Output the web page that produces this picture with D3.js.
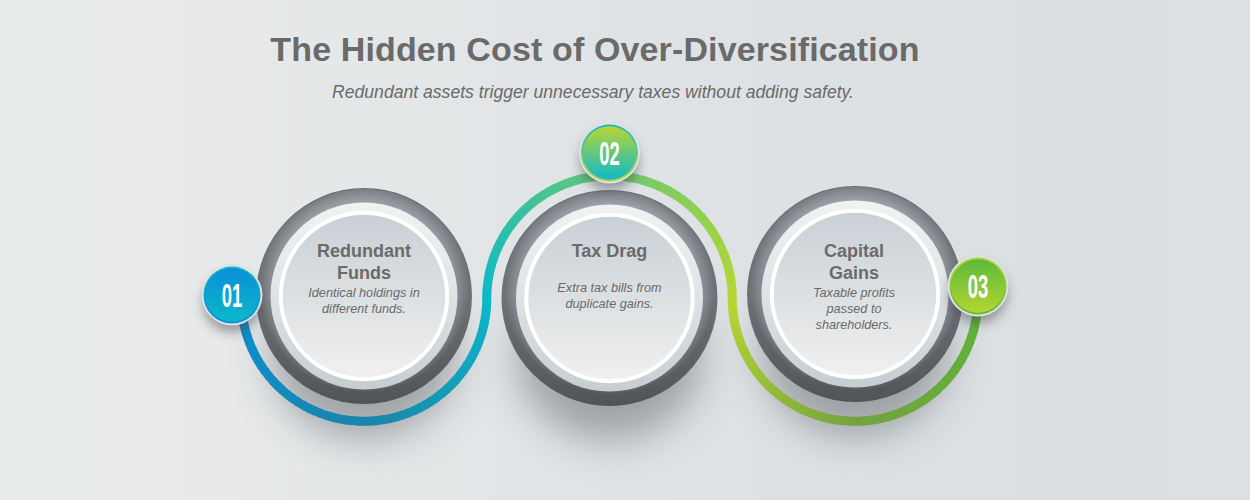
<!DOCTYPE html>
<html>
<head>
<meta charset="utf-8">
<script src="https://cdn.jsdelivr.net/npm/d3@7"></script>
<style>
html, body { margin: 0; padding: 0; background: #e2e5e7; }
svg { display: block; }
text { font-family: "Liberation Sans", Arial, sans-serif; fill: #6a6a6a; text-anchor: middle; }
.title { font-size: 34px; font-weight: 700; letter-spacing: 0.13px; }
.subtitle { font-size: 17.6px; font-style: italic; }
.step-title { font-size: 18px; font-weight: 700; }
.step-desc { font-size: 12.7px; font-style: italic; }
.badge-num { font-size: 33px; font-weight: 700; fill: #fff; }
</style>
</head>
<body>
<div id="chart"></div>
<script>
const titleText = 'The Hidden Cost of Over-Diversification';
const subtitleText = 'Redundant assets trigger unnecessary taxes without adding safety.';

const stepIds = ['01', '02', '03'];
const stepTitles = [['Redundant', 'Funds'], ['Tax Drag'], ['Capital', 'Gains']];
const stepDescs = [
    ['Identical holdings in', 'different funds.'],
    ['Extra tax bills from', 'duplicate gains.'],
    ['Taxable profits', 'passed to', 'shareholders.']
];
// colours along the ribbon, from badge 01 to badge 03
const ribbonColors = ['#0b90d0', '#1b84ab', '#0cb9ca', '#6cc972', '#b6d733', '#73a23f', '#5cb539'];
const badgeInner = [['#0a8fd9', '#0cb8c7'], ['#b9d632', '#0db9cb'], ['#5db93a', '#b3d632']];
const badgeEdge = [['#0cb8c7', '#0a8fd9'], ['#0db9cb', '#b9d632'], ['#b3d632', '#5db93a']];

const width = 1250, height = 500;

const svg = d3.select('#chart').append('svg')
    .attr('width', width)
    .attr('height', height);
const defs = svg.append('defs');

function linearGrad(id, stops, horizontal) {
    const g = defs.append('linearGradient').attr('id', id)
        .attr('x1', 0).attr('y1', 0)
        .attr('x2', horizontal ? 1 : 0).attr('y2', horizontal ? 0 : 1);
    stops.forEach(s => g.append('stop').attr('offset', s[0]).attr('stop-color', s[1]));
}

linearGrad('bg', [[0, '#e8ebeb'], [0.12, '#e8eaeb'], [0.5, '#e0e3e5'], [0.9, '#d9dee1'], [1, '#dee1e3']], true);
linearGrad('ringDark', [[0, '#696e73'], [0.5, '#6d7277'], [1, '#515457']]);
linearGrad('ringLight', [[0, '#f1f2f2'], [0.45, '#e2e5e7'], [1, '#c6cdd1']]);
linearGrad('disc', [[0, '#c9d0d5'], [1, '#f0f0f0']]);

const halo = defs.append('radialGradient').attr('id', 'halo')
    .attr('cx', 0.5).attr('cy', 0.46).attr('r', 0.5);
halo.append('stop').attr('offset', 0.76).attr('stop-color', '#a9afb6').attr('stop-opacity', 0.95);
halo.append('stop').attr('offset', 0.98).attr('stop-color', '#a9afb6').attr('stop-opacity', 0);

defs.append('filter').attr('id', 'blurBig')
    .attr('x', '-50%').attr('y', '-50%').attr('width', '200%').attr('height', '200%')
    .append('feGaussianBlur').attr('stdDeviation', 20);
defs.append('filter').attr('id', 'blurSmall')
    .attr('x', '-50%').attr('y', '-50%').attr('width', '200%').attr('height', '200%')
    .append('feGaussianBlur').attr('stdDeviation', 6);

stepIds.forEach((id, i) => {
    linearGrad(`inner${i}`, [[0, badgeInner[i][0]], [1, badgeInner[i][1]]]);
    linearGrad(`edge${i}`, [[0, badgeEdge[i][0]], [1, badgeEdge[i][1]]]);
});

svg.append('rect').attr('width', width).attr('height', height).attr('fill', 'url(#bg)');

svg.append('text').attr('class', 'title').attr('x', 595).attr('y', 61).text(titleText);
svg.append('text').attr('class', 'subtitle').attr('x', 593).attr('y', 98).text(subtitleText);

const x = d3.scalePoint().domain(stepIds).range([364, 855]);
const cy = d => 296 + (d === '02' ? 2 : d === '03' ? -2 : 0);
const ribbonR = (x('02') - x('01')) / 2;

// soft shadows under each circle
svg.append('g').selectAll('ellipse').data(stepIds).join('ellipse')
    .attr('cx', d => x(d))
    .attr('cy', d => cy(d) + 58)
    .attr('rx', 92)
    .attr('ry', 84)
    .attr('fill', '#5c6065')
    .attr('opacity', 0.5)
    .attr('filter', 'url(#blurBig)');

// ribbon: three half rings cut into short arcs so the colour can run along it
const ribbon = svg.append('g');
const color = d3.scaleLinear()
    .domain(d3.range(ribbonColors.length).map(i => i / (ribbonColors.length - 1)))
    .range(ribbonColors);
const arcGen = d3.arc().innerRadius(ribbonR - 4.5).outerRadius(ribbonR + 4.5);
const segs = 60;
stepIds.forEach((d, i) => {
    // middle half goes over the top, the outer ones under the bottom
    const a0 = i === 1 ? -Math.PI / 2 : 1.5 * Math.PI;
    const a1 = Math.PI / 2;
    d3.range(segs).forEach(k => {
        const t0 = a0 + (a1 - a0) * k / segs;
        const t1 = a0 + (a1 - a0) * (k + 1.2) / segs;
        ribbon.append('path')
            .attr('transform', `translate(${x(d)},298.5)`)
            .attr('d', arcGen({ startAngle: t0, endAngle: t1 }))
            .attr('fill', color((i + k / segs) / 3));
    });
});

// the three dials
const dial = svg.append('g').selectAll('g').data(stepIds).join('g')
    .attr('transform', d => `translate(${x(d)},${cy(d)})`);
dial.append('circle').attr('r', 108).attr('fill', 'url(#ringDark)');
dial.append('circle').attr('r', 107).attr('fill', 'url(#halo)');
dial.append('circle').attr('r', 93.5).attr('fill', 'url(#ringLight)');
dial.append('circle').attr('r', 83.2).attr('fill', 'url(#disc)').attr('stroke', '#fff').attr('stroke-width', 4);

// labels
stepIds.forEach((d, i) => {
    const g = svg.append('g');
    const tx = x(d) + (i === 2 ? -1 : 0);
    stepTitles[i].forEach((line, k) => {
        g.append('text').attr('class', 'step-title')
            .attr('x', tx).attr('y', 257 + k * 22).text(line);
    });
    const descTop = stepTitles[i].length > 1 ? 297 : 292;
    stepDescs[i].forEach((line, k) => {
        g.append('text').attr('class', 'step-desc')
            .attr('x', tx).attr('y', descTop + k * 16).text(line);
    });
});

// numbered badges
const badgeX = d3.scaleOrdinal().domain(stepIds).range([232, 609.5, 978]);
const badgeY = d3.scaleOrdinal().domain(stepIds).range([295, 153, 286]);
const badge = svg.append('g').selectAll('g').data(stepIds).join('g')
    .attr('transform', d => `translate(${badgeX(d)},${badgeY(d)})`);
badge.append('circle').attr('r', 29).attr('cy', 8).attr('cx', 0)
    .attr('fill', '#3f4347').attr('opacity', 0.5).attr('filter', 'url(#blurSmall)');
badge.append('circle').attr('r', 30.5).attr('fill', '#dde1e4');
badge.append('circle').attr('r', 28.5).attr('fill', (d, i) => `url(#edge${i})`);
badge.append('circle').attr('r', 26.8).attr('fill', (d, i) => `url(#inner${i})`);
badge.append('text').attr('class', 'badge-num')
    .attr('transform', 'translate(0,11.5) scale(0.56,1)')
    .text(d => d);
</script>
</body>
</html>
